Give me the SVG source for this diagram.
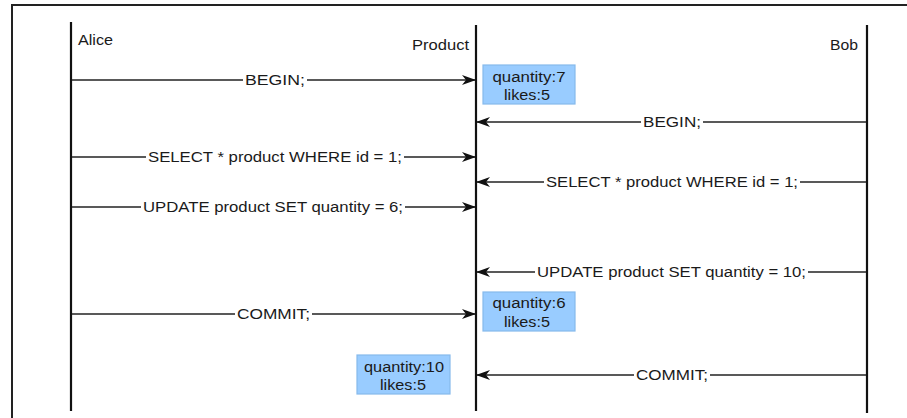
<svg xmlns="http://www.w3.org/2000/svg" width="907" height="418" viewBox="0 0 907 418">
<style>
  text { font-family: "Liberation Sans", Arial, sans-serif; font-size: 14px; fill: #1a1a1a; }
  .life { stroke: #111; stroke-width: 2.2; fill: none; }
  .msg { stroke: #222; stroke-width: 1.3; fill: none; }
  .lblbg { fill: #fff; }
  .state rect { fill: #99ccff; stroke: #86b9ec; stroke-width: 1.2; }
  .state text { text-anchor: middle; }
  .frame { stroke: #222; stroke-width: 2; fill: none; }
</style>
<defs>
  <marker id="ah" viewBox="0 0 14 10" refX="13" refY="5" markerWidth="14" markerHeight="10" markerUnits="userSpaceOnUse" orient="auto">
    <path d="M0,0 L14,5 L0,10 L4,5 Z" fill="#111"/>
  </marker>
</defs>
<rect width="907" height="418" fill="#fff"/>
<path class="frame" d="M12,418 L12,5 L907,5"/>

<g id="alice">
  <line class="life" x1="71" y1="22" x2="71" y2="411"/>
  <text x="78" y="45" textLength="35" lengthAdjust="spacingAndGlyphs">Alice</text>
</g>
<g id="product">
  <line class="life" x1="476" y1="25" x2="476" y2="411"/>
  <text x="412" y="50" textLength="57" lengthAdjust="spacingAndGlyphs">Product</text>
</g>
<g id="bob">
  <line class="life" x1="867" y1="25" x2="867" y2="413"/>
  <text x="830" y="50" textLength="28" lengthAdjust="spacingAndGlyphs">Bob</text>
</g>

<g id="connectors">
  <line class="msg" x1="72" y1="80" x2="475" y2="80" marker-end="url(#ah)"/>
  <rect class="lblbg" x="243" y="72" width="64" height="16"/>
  <text x="245" y="85" textLength="60" lengthAdjust="spacingAndGlyphs">BEGIN;</text>

  <line class="msg" x1="866" y1="122" x2="477" y2="122" marker-end="url(#ah)"/>
  <rect class="lblbg" x="641" y="114" width="62" height="16"/>
  <text x="643" y="127" textLength="58" lengthAdjust="spacingAndGlyphs">BEGIN;</text>

  <line class="msg" x1="72" y1="157" x2="475" y2="157" marker-end="url(#ah)"/>
  <rect class="lblbg" x="146" y="149" width="258" height="16"/>
  <text x="148" y="162" textLength="254" lengthAdjust="spacingAndGlyphs">SELECT * product WHERE id = 1;</text>

  <line class="msg" x1="866" y1="182" x2="477" y2="182" marker-end="url(#ah)"/>
  <rect class="lblbg" x="544" y="174" width="256" height="16"/>
  <text x="546" y="187" textLength="252" lengthAdjust="spacingAndGlyphs">SELECT * product WHERE id = 1;</text>

  <line class="msg" x1="72" y1="207" x2="475" y2="207" marker-end="url(#ah)"/>
  <rect class="lblbg" x="141" y="199" width="264" height="16"/>
  <text x="143" y="212" textLength="260" lengthAdjust="spacingAndGlyphs">UPDATE product SET quantity = 6;</text>

  <line class="msg" x1="866" y1="272" x2="477" y2="272" marker-end="url(#ah)"/>
  <rect class="lblbg" x="535" y="264" width="273" height="16"/>
  <text x="537" y="277" textLength="269" lengthAdjust="spacingAndGlyphs">UPDATE product SET quantity = 10;</text>

  <line class="msg" x1="72" y1="314" x2="475" y2="314" marker-end="url(#ah)"/>
  <rect class="lblbg" x="235" y="306" width="77" height="16"/>
  <text x="237" y="319" textLength="73" lengthAdjust="spacingAndGlyphs">COMMIT;</text>

  <line class="msg" x1="866" y1="375" x2="477" y2="375" marker-end="url(#ah)"/>
  <rect class="lblbg" x="634" y="367" width="76" height="16"/>
  <text x="636" y="380" textLength="72" lengthAdjust="spacingAndGlyphs">COMMIT;</text>
</g>

<g id="state1" class="state">
  <rect x="483" y="65" width="92" height="39"/>
  <text x="529" y="82" textLength="73" lengthAdjust="spacingAndGlyphs">quantity:7</text>
  <text x="527" y="100" textLength="46" lengthAdjust="spacingAndGlyphs">likes:5</text>
</g>
<g id="state2" class="state">
  <rect x="483" y="292" width="92" height="39"/>
  <text x="529" y="308" textLength="73" lengthAdjust="spacingAndGlyphs">quantity:6</text>
  <text x="527" y="327" textLength="46" lengthAdjust="spacingAndGlyphs">likes:5</text>
</g>
<g id="state3" class="state">
  <rect x="357" y="355" width="93" height="39"/>
  <text x="404" y="372" textLength="80" lengthAdjust="spacingAndGlyphs">quantity:10</text>
  <text x="403" y="390" textLength="46" lengthAdjust="spacingAndGlyphs">likes:5</text>
</g>
</svg>
